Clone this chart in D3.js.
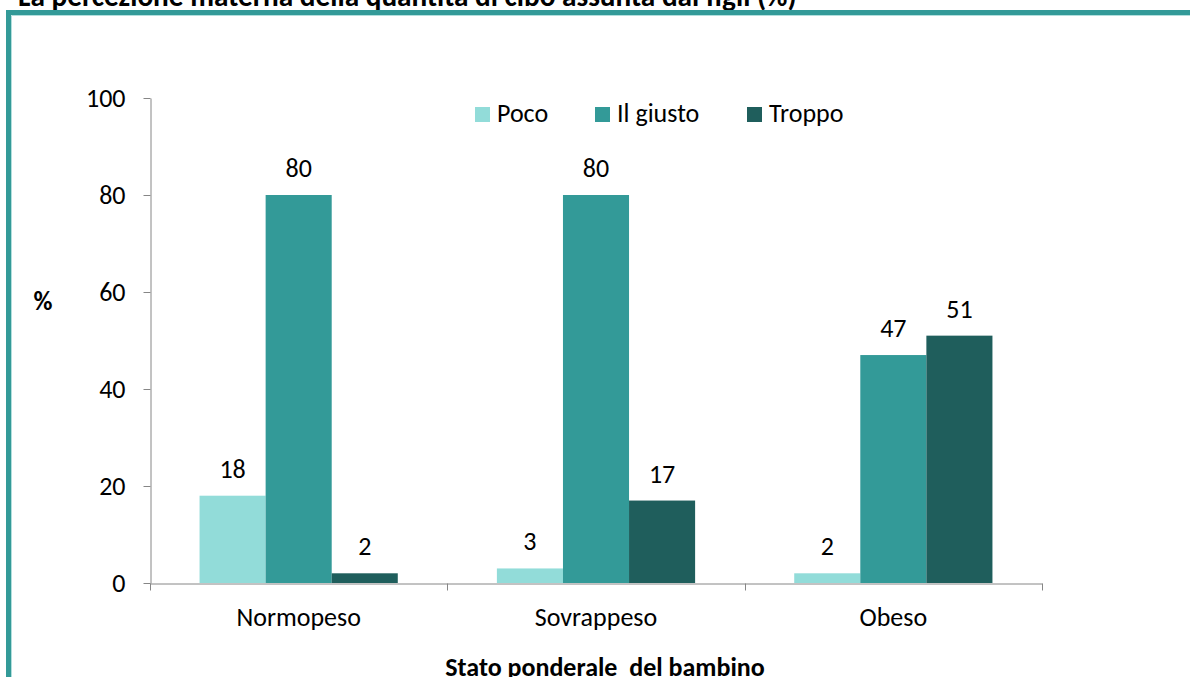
<!DOCTYPE html>
<html><head><meta charset="utf-8">
<script src="https://cdn.jsdelivr.net/npm/d3@7"></script>
<style>
html,body{margin:0;padding:0;background:#fff;overflow:hidden}
svg{display:block;font-family:Carlito,Calibri,Lato,sans-serif}
</style></head>
<body>
<svg id="c" width="1190" height="677"></svg>
<script>
const categories = ["Normopeso", "Sovrappeso", "Obeso"];
const seriesNames = ["Poco", "Il giusto", "Troppo"];
const poco = [18, 3, 2];
const giusto = [80, 80, 47];
const troppo = [2, 17, 51];
const yTicks = [0, 20, 40, 60, 80, 100];
const colors = ["#92dcd9", "#339a98", "#1f5e5c"];
const title = "La percezione materna della quantità di cibo assunta dai figli (%)";
const xTitle = "Stato ponderale  del bambino";
const yTitle = "%";

const svg = d3.select("#c");
const series = [poco, giusto, troppo];

// title (partly hidden by frame)
const t = svg.append("text").attr("x", 18).attr("y", 6)
  .attr("font-weight", "bold").attr("font-size", 26).attr("fill", "#000")
  .attr("xml:space", "preserve").text(title);
const tw = t.node().getComputedTextLength();
t.attr("font-size", 26 * 779 / tw);

// frame (top and left edges visible)
svg.append("path").attr("d", "M8.5,700 V12.5 H1200")
  .attr("fill", "none").attr("stroke", "#339a98").attr("stroke-width", 5);
svg.append("path").attr("d", "M11.5,700 V15.5 H1200")
  .attr("fill", "none").attr("stroke", "#b2dfdd").attr("stroke-width", 1);

const x0 = d3.scaleBand().domain(categories).range([150, 1042]).padding(0);
const x1 = d3.scaleBand().domain(seriesNames)
  .range([x0.bandwidth() / 6, x0.bandwidth() * 5 / 6]).padding(0);
const y = d3.scaleLinear().domain([0, 100]).range([583, 98]);

const fs = 26;
// bars
seriesNames.forEach((s, si) => {
  const g = svg.append("g");
  g.selectAll("rect").data(series[si]).join("rect")
    .attr("x", (d, i) => x0(categories[i]) + x1(s))
    .attr("y", d => y(d))
    .attr("width", x1.bandwidth())
    .attr("height", d => y(0) - y(d))
    .attr("fill", colors[si]);
  g.selectAll("text").data(series[si]).join("text")
    .attr("x", (d, i) => x0(categories[i]) + x1(s) + x1.bandwidth() / 2)
    .attr("y", d => y(d) - 18)
    .attr("text-anchor", "middle").attr("font-size", fs).attr("fill", "#000")
    .text(d => d);
});

// y axis
const yAxis = svg.append("g").attr("transform", "translate(150.5,0)")
  .call(d3.axisLeft(y).tickValues(yTicks).tickSize(7).tickPadding(18).tickSizeOuter(0));
yAxis.attr("font-family", null);
yAxis.select(".domain").attr("stroke", "#868686");
yAxis.selectAll(".tick line").attr("stroke", "#868686");
yAxis.selectAll(".tick text").attr("font-size", fs).attr("fill", "#000").attr("dy", "0.34em");

// x axis
const xAxis = svg.append("g").attr("transform", "translate(0,583.5)")
  .call(d3.axisBottom(x0).tickSize(0).tickPadding(0).tickSizeOuter(0));
xAxis.attr("font-family", null);
xAxis.select(".domain").attr("stroke", "#868686");
xAxis.selectAll(".tick text").attr("font-size", fs).attr("fill", "#000")
  .attr("dy", null).attr("y", 42);
const bounds = categories.map(c => x0(c)).concat([x0.range()[1]]);
xAxis.selectAll(".sep").data(bounds).join("line").attr("class", "sep")
  .attr("x1", d => Math.round(d) + 0.5).attr("x2", d => Math.round(d) + 0.5)
  .attr("y1", 0).attr("y2", 7).attr("stroke", "#868686");

// axis titles
svg.append("text").attr("x", 43).attr("y", 310).attr("text-anchor", "middle")
  .attr("font-weight", "bold").attr("font-size", fs).text(yTitle);
svg.append("text").attr("x", 605).attr("y", 676).attr("text-anchor", "middle")
  .attr("font-weight", "bold").attr("font-size", fs).attr("xml:space", "preserve").text(xTitle);

// legend
const legX = [475, 595, 747];
const lg = svg.append("g");
seriesNames.forEach((s, i) => {
  lg.append("rect").attr("x", legX[i]).attr("y", 107).attr("width", 15).attr("height", 15).attr("fill", colors[i]);
  lg.append("text").attr("x", legX[i] + 22).attr("y", 122).attr("font-size", fs).text(s);
});
</script>
</body></html>
